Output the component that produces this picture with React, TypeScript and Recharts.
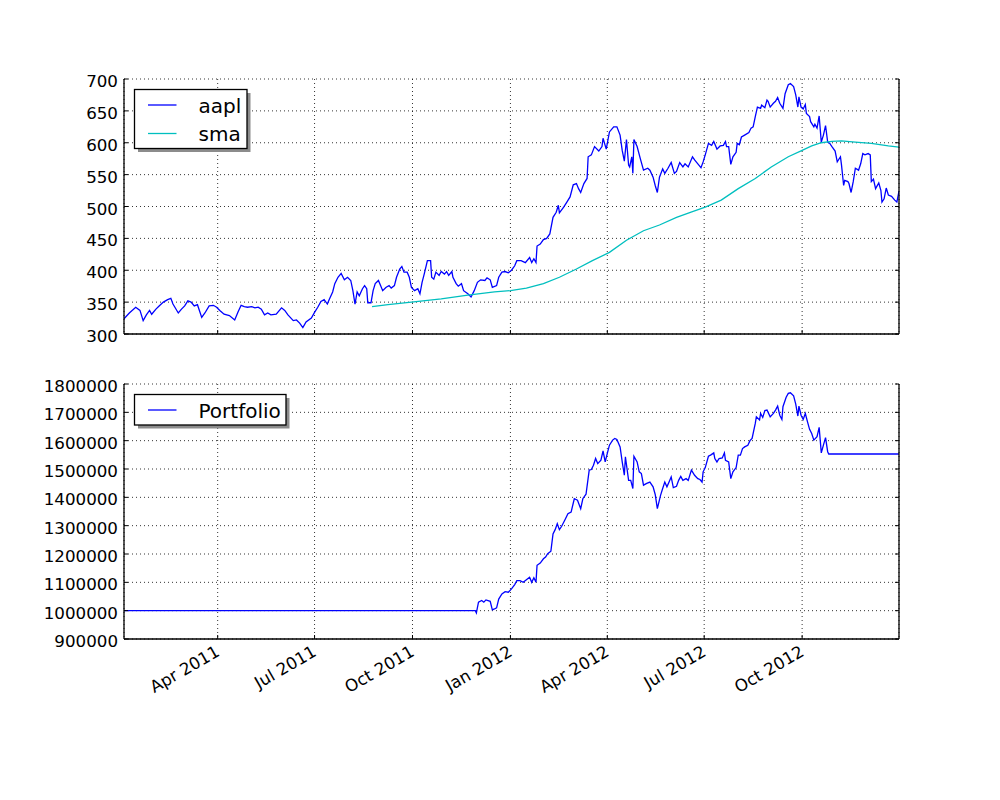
import React from "react";
import { LineChart, Line, XAxis, YAxis, CartesianGrid, Legend } from "recharts";

const FONT = '"DejaVu Sans", "Bitstream Vera Sans", sans-serif';

const xStart = "2011-01-03";
const xEnd = "2012-12-31";
const xTickDates = ["2011-04-01", "2011-07-01", "2011-10-01", "2012-01-01", "2012-04-01", "2012-07-01", "2012-10-01"];
const xTickLabels = ["Apr 2011", "Jul 2011", "Oct 2011", "Jan 2012", "Apr 2012", "Jul 2012", "Oct 2012"];
const priceTicks = [300, 350, 400, 450, 500, 550, 600, 650, 700];
const portfolioTicks = [900000, 1000000, 1100000, 1200000, 1300000, 1400000, 1500000, 1600000, 1700000, 1800000];

const aapl: [string, number][] = [
  ["2011-01-03", 324], ["2011-01-08", 333], ["2011-01-14", 342], ["2011-01-18", 337], ["2011-01-21", 321],
  ["2011-01-24", 330], ["2011-01-27", 337], ["2011-01-29", 331], ["2011-02-02", 339], ["2011-02-05", 344],
  ["2011-02-09", 350], ["2011-02-13", 354], ["2011-02-16", 356], ["2011-02-18", 347], ["2011-02-23", 333],
  ["2011-02-26", 339], ["2011-03-01", 344], ["2011-03-04", 352], ["2011-03-07", 350], ["2011-03-10", 344],
  ["2011-03-13", 346], ["2011-03-17", 326], ["2011-03-20", 333], ["2011-03-24", 344], ["2011-03-28", 345],
  ["2011-03-31", 342], ["2011-04-03", 337], ["2011-04-07", 331], ["2011-04-12", 329], ["2011-04-17", 322],
  ["2011-04-20", 334], ["2011-04-23", 345], ["2011-04-26", 343], ["2011-04-29", 342], ["2011-05-03", 343],
  ["2011-05-06", 341], ["2011-05-09", 342], ["2011-05-12", 339], ["2011-05-15", 330], ["2011-05-18", 333],
  ["2011-05-21", 330], ["2011-05-26", 331], ["2011-05-31", 341], ["2011-06-03", 337], ["2011-06-06", 330],
  ["2011-06-11", 321], ["2011-06-14", 322], ["2011-06-17", 317], ["2011-06-20", 310], ["2011-06-23", 319],
  ["2011-06-28", 325], ["2011-07-01", 334], ["2011-07-04", 342], ["2011-07-07", 351], ["2011-07-10", 354],
  ["2011-07-13", 347], ["2011-07-15", 355], ["2011-07-18", 366], ["2011-07-20", 379], ["2011-07-23", 389],
  ["2011-07-26", 395], ["2011-07-29", 385], ["2011-08-01", 389], ["2011-08-04", 384], ["2011-08-06", 368],
  ["2011-08-08", 347], ["2011-08-10", 366], ["2011-08-12", 360], ["2011-08-15", 371], ["2011-08-17", 376],
  ["2011-08-19", 371], ["2011-08-20", 349], ["2011-08-23", 349], ["2011-08-25", 368], ["2011-08-27", 379],
  ["2011-08-30", 384], ["2011-09-01", 376], ["2011-09-03", 368], ["2011-09-06", 373], ["2011-09-09", 376],
  ["2011-09-11", 372], ["2011-09-14", 376], ["2011-09-16", 389], ["2011-09-19", 402], ["2011-09-21", 406],
  ["2011-09-23", 397], ["2011-09-26", 397], ["2011-09-28", 389], ["2011-09-30", 373], ["2011-10-03", 368],
  ["2011-10-06", 371], ["2011-10-08", 363], ["2011-10-10", 381], ["2011-10-12", 394], ["2011-10-15", 415],
  ["2011-10-18", 415], ["2011-10-19", 389], ["2011-10-21", 386], ["2011-10-23", 397], ["2011-10-26", 392],
  ["2011-10-28", 398], ["2011-10-31", 394], ["2011-11-02", 398], ["2011-11-04", 392], ["2011-11-07", 398],
  ["2011-11-08", 389], ["2011-11-11", 379], ["2011-11-13", 375], ["2011-11-16", 379], ["2011-11-18", 368],
  ["2011-11-22", 363], ["2011-11-25", 358], ["2011-11-28", 368], ["2011-12-01", 381], ["2011-12-04", 385],
  ["2011-12-08", 384], ["2011-12-10", 388], ["2011-12-13", 385], ["2011-12-15", 373], ["2011-12-19", 376],
  ["2011-12-21", 389], ["2011-12-24", 397], ["2011-12-27", 398], ["2011-12-30", 396], ["2012-01-02", 400],
  ["2012-01-05", 407], ["2012-01-07", 415], ["2012-01-11", 415], ["2012-01-15", 412], ["2012-01-19", 420],
  ["2012-01-21", 412], ["2012-01-23", 418], ["2012-01-25", 412], ["2012-01-26", 438], ["2012-01-29", 441],
  ["2012-02-01", 448], ["2012-02-04", 450], ["2012-02-07", 457], ["2012-02-10", 483], ["2012-02-13", 491],
  ["2012-02-15", 502], ["2012-02-16", 490], ["2012-02-20", 499], ["2012-02-23", 507], ["2012-02-26", 515],
  ["2012-02-29", 534], ["2012-03-03", 536], ["2012-03-05", 528], ["2012-03-07", 522], ["2012-03-10", 536],
  ["2012-03-13", 544], ["2012-03-14", 578], ["2012-03-17", 581], ["2012-03-20", 594], ["2012-03-24", 587],
  ["2012-03-27", 594], ["2012-03-28", 607], ["2012-03-31", 590], ["2012-04-03", 617], ["2012-04-07", 625],
  ["2012-04-10", 625], ["2012-04-13", 612], ["2012-04-15", 588], ["2012-04-17", 571], ["2012-04-19", 605],
  ["2012-04-21", 565], ["2012-04-22", 562], ["2012-04-24", 578], ["2012-04-25", 552], ["2012-04-26", 605],
  ["2012-04-29", 594], ["2012-05-02", 575], ["2012-05-05", 557], ["2012-05-09", 560], ["2012-05-11", 557],
  ["2012-05-14", 546], ["2012-05-16", 533], ["2012-05-18", 522], ["2012-05-20", 546], ["2012-05-23", 559],
  ["2012-05-25", 552], ["2012-05-28", 560], ["2012-05-31", 569], ["2012-06-03", 552], ["2012-06-05", 555],
  ["2012-06-08", 569], ["2012-06-11", 562], ["2012-06-13", 567], ["2012-06-16", 562], ["2012-06-20", 578],
  ["2012-06-22", 573], ["2012-06-26", 565], ["2012-06-28", 561], ["2012-06-30", 570], ["2012-07-02", 581],
  ["2012-07-05", 599], ["2012-07-08", 596], ["2012-07-10", 602], ["2012-07-13", 590], ["2012-07-16", 595],
  ["2012-07-19", 596], ["2012-07-21", 602], ["2012-07-22", 594], ["2012-07-24", 594], ["2012-07-26", 566],
  ["2012-07-28", 578], ["2012-07-31", 585], ["2012-08-01", 599], ["2012-08-03", 597], ["2012-08-05", 609],
  ["2012-08-08", 612], ["2012-08-12", 616], ["2012-08-14", 623], ["2012-08-16", 625], ["2012-08-18", 641],
  ["2012-08-20", 656], ["2012-08-23", 654], ["2012-08-24", 659], ["2012-08-27", 655], ["2012-08-29", 667],
  ["2012-08-30", 665], ["2012-09-01", 656], ["2012-09-04", 662], ["2012-09-06", 665], ["2012-09-08", 671],
  ["2012-09-10", 662], ["2012-09-13", 654], ["2012-09-15", 677], ["2012-09-18", 691], ["2012-09-20", 693],
  ["2012-09-23", 688], ["2012-09-25", 675], ["2012-09-27", 656], ["2012-09-28", 672], ["2012-09-30", 656],
  ["2012-10-02", 653], ["2012-10-04", 660], ["2012-10-05", 646], ["2012-10-08", 641], ["2012-10-09", 633],
  ["2012-10-12", 625], ["2012-10-13", 629], ["2012-10-15", 623], ["2012-10-17", 642], ["2012-10-19", 601],
  ["2012-10-21", 612], ["2012-10-23", 627], ["2012-10-25", 601], ["2012-10-27", 599], ["2012-10-29", 594],
  ["2012-11-01", 587], ["2012-11-03", 570], ["2012-11-06", 578], ["2012-11-07", 565], ["2012-11-09", 533],
  ["2012-11-10", 541], ["2012-11-13", 539], ["2012-11-14", 536], ["2012-11-16", 522], ["2012-11-18", 539],
  ["2012-11-20", 560], ["2012-11-23", 557], ["2012-11-25", 567], ["2012-11-27", 583], ["2012-11-29", 581],
  ["2012-12-02", 583], ["2012-12-04", 581], ["2012-12-05", 539], ["2012-12-07", 543], ["2012-12-09", 528],
  ["2012-12-12", 537], ["2012-12-14", 525], ["2012-12-15", 507], ["2012-12-17", 512], ["2012-12-19", 529],
  ["2012-12-21", 518], ["2012-12-24", 516], ["2012-12-27", 510], ["2012-12-29", 507], ["2012-12-31", 524],
];

const sma: [string, number][] = [
  ["2011-08-24", 343], ["2011-09-08", 346], ["2011-09-30", 350], ["2011-10-28", 355], ["2011-11-22", 361],
  ["2011-12-17", 366], ["2012-01-01", 368], ["2012-01-16", 372], ["2012-02-01", 379], ["2012-02-16", 389],
  ["2012-03-03", 402], ["2012-03-18", 415], ["2012-04-03", 428], ["2012-04-19", 447], ["2012-05-05", 462],
  ["2012-05-20", 471], ["2012-06-05", 483], ["2012-06-20", 492], ["2012-07-02", 499], ["2012-07-17", 510],
  ["2012-08-02", 528], ["2012-08-18", 544], ["2012-09-02", 562], ["2012-09-18", 578], ["2012-10-01", 588],
  ["2012-10-10", 595], ["2012-10-19", 600], ["2012-10-29", 602], ["2012-11-07", 603], ["2012-11-20", 601],
  ["2012-12-05", 599], ["2012-12-21", 595], ["2012-12-31", 593],
];

const portfolio: [string, number][] = [
  ["2011-01-03", 1000000], ["2011-11-29", 1000000], ["2011-11-30", 992000], ["2011-12-02", 1030000],
  ["2011-12-05", 1036000], ["2011-12-07", 1030000], ["2011-12-09", 1038000], ["2011-12-13", 1033000],
  ["2011-12-15", 1003000], ["2011-12-17", 1006000], ["2011-12-19", 1010000], ["2011-12-21", 1041000],
  ["2011-12-24", 1059000], ["2011-12-27", 1067000], ["2011-12-30", 1065000], ["2012-01-02", 1077000],
  ["2012-01-05", 1092000], ["2012-01-07", 1106000], ["2012-01-10", 1106000], ["2012-01-13", 1100000],
  ["2012-01-16", 1109000], ["2012-01-19", 1118000], ["2012-01-21", 1100000], ["2012-01-23", 1116000],
  ["2012-01-25", 1100000], ["2012-01-26", 1160000], ["2012-01-29", 1168000], ["2012-02-01", 1183000],
  ["2012-02-03", 1189000], ["2012-02-05", 1201000], ["2012-02-08", 1210000], ["2012-02-10", 1271000],
  ["2012-02-12", 1286000], ["2012-02-14", 1307000], ["2012-02-16", 1286000], ["2012-02-18", 1297000],
  ["2012-02-21", 1319000], ["2012-02-24", 1342000], ["2012-02-27", 1348000], ["2012-03-01", 1395000],
  ["2012-03-04", 1390000], ["2012-03-07", 1360000], ["2012-03-09", 1395000], ["2012-03-12", 1411000],
  ["2012-03-15", 1496000], ["2012-03-17", 1498000], ["2012-03-19", 1513000], ["2012-03-21", 1537000],
  ["2012-03-23", 1519000], ["2012-03-26", 1531000], ["2012-03-28", 1564000], ["2012-03-30", 1525000],
  ["2012-04-01", 1555000], ["2012-04-03", 1584000], ["2012-04-06", 1602000], ["2012-04-08", 1608000],
  ["2012-04-10", 1604000], ["2012-04-13", 1578000], ["2012-04-15", 1525000], ["2012-04-17", 1478000],
  ["2012-04-18", 1543000], ["2012-04-21", 1460000], ["2012-04-23", 1460000], ["2012-04-25", 1431000],
  ["2012-04-26", 1545000], ["2012-04-29", 1525000], ["2012-05-01", 1490000], ["2012-05-03", 1484000],
  ["2012-05-05", 1443000], ["2012-05-08", 1449000], ["2012-05-11", 1454000], ["2012-05-14", 1437000],
  ["2012-05-16", 1410000], ["2012-05-18", 1360000], ["2012-05-21", 1407000], ["2012-05-23", 1431000],
  ["2012-05-25", 1454000], ["2012-05-27", 1437000], ["2012-05-29", 1454000], ["2012-05-31", 1472000],
  ["2012-06-02", 1434000], ["2012-06-05", 1439000], ["2012-06-07", 1460000], ["2012-06-09", 1474000],
  ["2012-06-11", 1460000], ["2012-06-14", 1466000], ["2012-06-16", 1460000], ["2012-06-19", 1496000],
  ["2012-06-22", 1478000], ["2012-06-25", 1466000], ["2012-06-27", 1463000], ["2012-06-29", 1454000],
  ["2012-06-30", 1490000], ["2012-07-02", 1505000], ["2012-07-05", 1545000], ["2012-07-07", 1549000],
  ["2012-07-10", 1557000], ["2012-07-11", 1537000], ["2012-07-13", 1525000], ["2012-07-15", 1537000],
  ["2012-07-18", 1539000], ["2012-07-20", 1557000], ["2012-07-21", 1531000], ["2012-07-24", 1525000],
  ["2012-07-26", 1466000], ["2012-07-28", 1490000], ["2012-07-31", 1505000], ["2012-08-02", 1549000],
  ["2012-08-04", 1549000], ["2012-08-06", 1572000], ["2012-08-08", 1578000], ["2012-08-11", 1584000],
  ["2012-08-13", 1600000], ["2012-08-15", 1608000], ["2012-08-18", 1661000], ["2012-08-19", 1684000],
  ["2012-08-22", 1673000], ["2012-08-23", 1696000], ["2012-08-25", 1682000], ["2012-08-27", 1706000],
  ["2012-08-29", 1708000], ["2012-09-01", 1684000], ["2012-09-04", 1696000], ["2012-09-06", 1708000],
  ["2012-09-08", 1722000], ["2012-09-10", 1690000], ["2012-09-12", 1675000], ["2012-09-13", 1720000],
  ["2012-09-16", 1753000], ["2012-09-18", 1767000], ["2012-09-20", 1769000], ["2012-09-23", 1758000],
  ["2012-09-25", 1729000], ["2012-09-27", 1687000], ["2012-09-28", 1722000], ["2012-09-30", 1690000],
  ["2012-10-02", 1675000], ["2012-10-04", 1696000], ["2012-10-06", 1667000], ["2012-10-08", 1640000],
  ["2012-10-10", 1625000], ["2012-10-12", 1602000], ["2012-10-15", 1614000], ["2012-10-17", 1647000],
  ["2012-10-19", 1557000], ["2012-10-21", 1584000], ["2012-10-23", 1611000], ["2012-10-25", 1561000],
  ["2012-10-26", 1553000], ["2012-12-31", 1553000],
];

const toRows = (pts: [string, number][]) => pts.map(([d, v]) => ({ t: Date.parse(d), v }));
const aaplRows = toRows(aapl);
const smaRows = toRows(sma);
const portfolioRows = toRows(portfolio);
const xDomain = [Date.parse(xStart), Date.parse(xEnd)];
const xTickTimes = xTickDates.map((d) => Date.parse(d));

const TICK_FONT = 16.7;
const LEGEND_FONT = 20;
const LW = 1.3;

const BottomTick = (props: any) => {
  const { x, y, payload, showLabel } = props;
  const idx = xTickTimes.indexOf(payload.value);
  const label = idx >= 0 ? xTickLabels[idx] : "";
  const tx = x + 3;
  const ty = y + 16;
  return (
    <g>
      <line x1={x} y1={y} x2={x} y2={y - 4} stroke="#000" strokeWidth={1} />
      {showLabel ? (
        <text
          x={tx}
          y={ty}
          transform={`rotate(-30, ${tx}, ${ty})`}
          textAnchor="end"
          fontSize={TICK_FONT}
          fontFamily={FONT}
          fill="#000"
        >
          {label}
        </text>
      ) : null}
    </g>
  );
};

const TopTick = (props: any) => {
  const { x, y } = props;
  return <line x1={x} y1={y} x2={x} y2={y + 4} stroke="#000" strokeWidth={1} />;
};

const LeftTick = (props: any) => {
  const { x, y, payload } = props;
  return (
    <g>
      <line x1={x} y1={y} x2={x + 4} y2={y} stroke="#000" strokeWidth={1} />
      <text x={x - 6} y={y + 8} textAnchor="end" fontSize={TICK_FONT} fontFamily={FONT} fill="#000">
        {String(payload.value)}
      </text>
    </g>
  );
};

const RightTick = (props: any) => {
  const { x, y } = props;
  return <line x1={x} y1={y} x2={x - 4} y2={y} stroke="#000" strokeWidth={1} />;
};

type LegendItem = { name: string; color: string };

const makeLegend = (items: LegendItem[], width: number) => () => {
  const rowH = 28.5;
  const h = items.length * rowH + 2;
  return (
    <svg width={width + 6} height={h + 6} style={{ display: "block", overflow: "visible" }}>
      <rect x={4} y={4} width={width} height={h} fill="#8c8c8c" />
      <rect x={0.5} y={0.5} width={width} height={h} fill="#fff" stroke="#000" strokeWidth={LW} />
      {items.map((it, i) => (
        <g key={it.name}>
          <line x1={14} x2={42.5} y1={16 + i * rowH} y2={16 + i * rowH} stroke={it.color} strokeWidth={LW} />
          <text x={64.5} y={23.5 + i * rowH} fontSize={LEGEND_FONT} fontFamily={FONT} fill="#000">
            {it.name}
          </text>
        </g>
      ))}
    </svg>
  );
};

const TopLegend = makeLegend(
  [
    { name: "aapl", color: "#0000ff" },
    { name: "sma", color: "#00bfbf" },
  ],
  112.5
);
const BottomLegend = makeLegend([{ name: "Portfolio", color: "#0000ff" }], 151.5);

const gridProps = { stroke: "#000", strokeWidth: 0.8, strokeDasharray: "1 3" };
const frame = { stroke: "#000", strokeWidth: LW };

export default function App() {
  return (
    <div style={{ position: "absolute", left: 0, top: 0, width: 1000, height: 800, background: "#fff" }}>
      <div style={{ position: "absolute", left: 0, top: 0 }}>
        <LineChart width={1000} height={354} margin={{ top: 79, right: 0, bottom: 0, left: 0 }}>
          <CartesianGrid {...gridProps} />
          <XAxis
            dataKey="t"
            type="number"
            domain={xDomain}
            ticks={xTickTimes}
            allowDataOverflow
            interval={0}
            height={20}
            tickSize={0}
            tickMargin={0}
            axisLine={frame}
            tick={(p: any) => <BottomTick {...p} showLabel={false} />}
          />
          <XAxis
            xAxisId="top"
            orientation="top"
            dataKey="t"
            type="number"
            domain={xDomain}
            ticks={xTickTimes}
            allowDataOverflow
            interval={0}
            height={0}
            tickSize={0}
            tickMargin={0}
            axisLine={frame}
            tick={TopTick}
          />
          <YAxis
            type="number"
            domain={[300, 700]}
            ticks={priceTicks}
            allowDataOverflow
            interval={0}
            width={124}
            tickSize={0}
            tickMargin={0}
            axisLine={frame}
            tick={LeftTick}
          />
          <YAxis
            yAxisId="right"
            orientation="right"
            type="number"
            domain={[300, 700]}
            ticks={priceTicks}
            allowDataOverflow
            interval={0}
            width={101}
            tickSize={0}
            tickMargin={0}
            axisLine={frame}
            tick={RightTick}
          />
          <Line data={aaplRows} dataKey="v" name="aapl" stroke="#0000ff" strokeWidth={LW} dot={false} type="linear" isAnimationActive={false} />
          <Line data={smaRows} dataKey="v" name="sma" stroke="#00bfbf" strokeWidth={LW} dot={false} type="linear" isAnimationActive={false} />
          <Legend
            layout="vertical"
            align="center"
            verticalAlign="middle"
            content={TopLegend}
            wrapperStyle={{ left: 134, top: 89, width: 125, height: 70 }}
          />
        </LineChart>
      </div>
      <div style={{ position: "absolute", left: 0, top: 354 }}>
        <LineChart width={1000} height={446} margin={{ top: 30, right: 0, bottom: 0, left: 0 }}>
          <CartesianGrid {...gridProps} />
          <XAxis
            dataKey="t"
            type="number"
            domain={xDomain}
            ticks={xTickTimes}
            allowDataOverflow
            interval={0}
            height={161}
            tickSize={0}
            tickMargin={0}
            axisLine={frame}
            tick={(p: any) => <BottomTick {...p} showLabel={true} />}
          />
          <XAxis
            xAxisId="top"
            orientation="top"
            dataKey="t"
            type="number"
            domain={xDomain}
            ticks={xTickTimes}
            allowDataOverflow
            interval={0}
            height={0}
            tickSize={0}
            tickMargin={0}
            axisLine={frame}
            tick={TopTick}
          />
          <YAxis
            type="number"
            domain={[900000, 1800000]}
            ticks={portfolioTicks}
            allowDataOverflow
            interval={0}
            width={124}
            tickSize={0}
            tickMargin={0}
            axisLine={frame}
            tick={LeftTick}
          />
          <YAxis
            yAxisId="right"
            orientation="right"
            type="number"
            domain={[900000, 1800000]}
            ticks={portfolioTicks}
            allowDataOverflow
            interval={0}
            width={101}
            tickSize={0}
            tickMargin={0}
            axisLine={frame}
            tick={RightTick}
          />
          <Line data={portfolioRows} dataKey="v" name="Portfolio" stroke="#0000ff" strokeWidth={LW} dot={false} type="linear" isAnimationActive={false} />
          <Legend
            layout="vertical"
            align="center"
            verticalAlign="middle"
            content={BottomLegend}
            wrapperStyle={{ left: 134, top: 40, width: 160, height: 40 }}
          />
        </LineChart>
      </div>
    </div>
  );
}
